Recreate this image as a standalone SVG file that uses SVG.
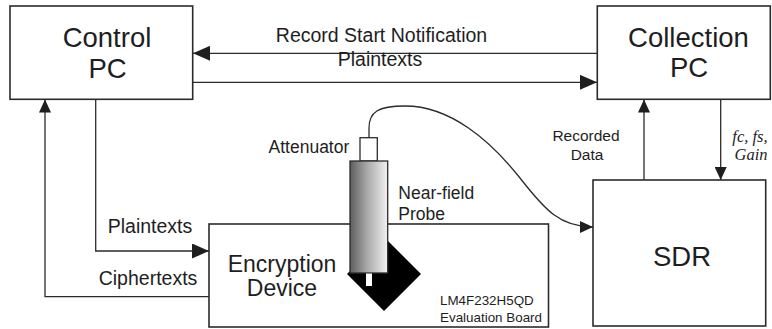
<svg xmlns="http://www.w3.org/2000/svg" width="772" height="329" viewBox="0 0 772 329">
  <style>
    .box { fill: #ffffff; stroke: #2b2b2b; stroke-width: 1.6; }
    .line { fill: none; stroke: #2b2b2b; stroke-width: 1.3; }
    .big { font-family: "Liberation Sans", Arial, sans-serif; font-size: 27.5px; fill: #1e1e1e; text-anchor: middle; }
    .mid { font-family: "Liberation Sans", Arial, sans-serif; font-size: 23px; fill: #1e1e1e; text-anchor: middle; }
    .lbl { font-family: "Liberation Sans", Arial, sans-serif; font-size: 19.5px; fill: #1e1e1e; text-anchor: middle; }
    .sm { font-family: "Liberation Sans", Arial, sans-serif; font-size: 17.5px; fill: #1e1e1e; }
    .xs { font-family: "Liberation Sans", Arial, sans-serif; font-size: 13.4px; fill: #1e1e1e; }
    .math { font-family: "Liberation Serif", "Times New Roman", serif; font-style: italic; font-size: 16.5px; fill: #1e1e1e; text-anchor: middle; }
  </style>
  <defs>
    <marker id="ah" viewBox="0 0 17 15" refX="17" refY="7.5" markerWidth="17" markerHeight="15" markerUnits="userSpaceOnUse" orient="auto">
      <path d="M0,0 L17,7.5 L0,15 z" fill="#1e1e1e"/>
    </marker>
    <marker id="ah-s" viewBox="0 0 13 12" refX="13" refY="6" markerWidth="13" markerHeight="12" markerUnits="userSpaceOnUse" orient="auto">
      <path d="M0,0 L13,6 L0,12 z" fill="#1e1e1e"/>
    </marker>
    <linearGradient id="probe-shade" x1="0" y1="0" x2="1" y2="0">
      <stop offset="0" stop-color="#5e5e5e"/>
      <stop offset="0.45" stop-color="#a8a8a8"/>
      <stop offset="1" stop-color="#f2f2f2"/>
    </linearGradient>
  </defs>

  <!-- connectors -->
  <g id="connectors">
    <line class="line" x1="597" y1="53.3" x2="193" y2="53.3" marker-end="url(#ah)"/>
    <line class="line" x1="193" y1="82.3" x2="597" y2="82.3" marker-end="url(#ah)"/>
    <polyline class="line" points="95.7,99 95.7,251 209,251" marker-end="url(#ah)"/>
    <polyline class="line" points="209,296.7 45,296.7 45,99.5" marker-end="url(#ah-s)"/>
    <line class="line" x1="644" y1="180" x2="644" y2="99.5" marker-end="url(#ah-s)"/>
    <line class="line" x1="720.7" y1="99.5" x2="720.7" y2="180" marker-end="url(#ah-s)"/>
    <text class="lbl" x="381.5" y="41.7">Record Start Notification</text>
    <text class="lbl" x="380" y="66">Plaintexts</text>
    <text class="lbl" x="150" y="232.7">Plaintexts</text>
    <text class="lbl" x="148" y="285">Ciphertexts</text>
    <text class="sm" x="586" y="140.7" text-anchor="middle" style="font-size:15.5px">Recorded</text>
    <text class="sm" x="587" y="160" text-anchor="middle" style="font-size:15.5px">Data</text>
    <text class="math" x="750" y="141.7">fc, fs,</text>
    <text class="math" x="751" y="160">Gain</text>
  </g>

  <g id="control-pc">
    <rect class="box" x="10" y="6" width="182.7" height="93.3"/>
    <text class="big" x="107" y="47">Control</text>
    <text class="big" x="107.5" y="78">PC</text>
  </g>

  <g id="collection-pc">
    <rect class="box" x="597.3" y="6" width="173" height="93.3"/>
    <text class="big" x="688.5" y="47">Collection</text>
    <text class="big" x="689" y="77">PC</text>
  </g>

  <g id="sdr">
    <rect class="box" x="593" y="180" width="172.7" height="146"/>
    <text class="big" x="682" y="266">SDR</text>
  </g>

  <g id="encryption-device">
    <rect class="box" x="209" y="224" width="339.5" height="103"/>
    <text class="mid" x="282" y="271.7">Encryption</text>
    <text class="mid" x="282" y="296">Device</text>
    <text class="xs" x="440" y="305">LM4F232H5QD</text>
    <text class="xs" x="440" y="321.7">Evaluation Board</text>
    <!-- chip on the board, rotated 45 degrees -->
    <polygon points="384,237 421,274 384,311 347,274" fill="#000000"/>
  </g>

  <g id="probe">
    <path class="line" d="M369,138 V128 C369,112 378,106 405,106 C450,106 490,140 520,178 C545,210 560,227 593,227" marker-end="url(#ah-s)"/>
    <rect x="360" y="137.7" width="17.3" height="23.3" fill="#ffffff" stroke="#2b2b2b" stroke-width="1.3"/>
    <rect x="350" y="161" width="37.7" height="112" fill="url(#probe-shade)" stroke="#2b2b2b" stroke-width="1.3"/>
    <rect x="366" y="273.5" width="6" height="12.5" fill="#ffffff"/>
    <text class="sm" x="349.3" y="153.3" text-anchor="end">Attenuator</text>
    <text class="sm" x="398.3" y="199">Near-field</text>
    <text class="sm" x="398.3" y="220">Probe</text>
  </g>
</svg>
